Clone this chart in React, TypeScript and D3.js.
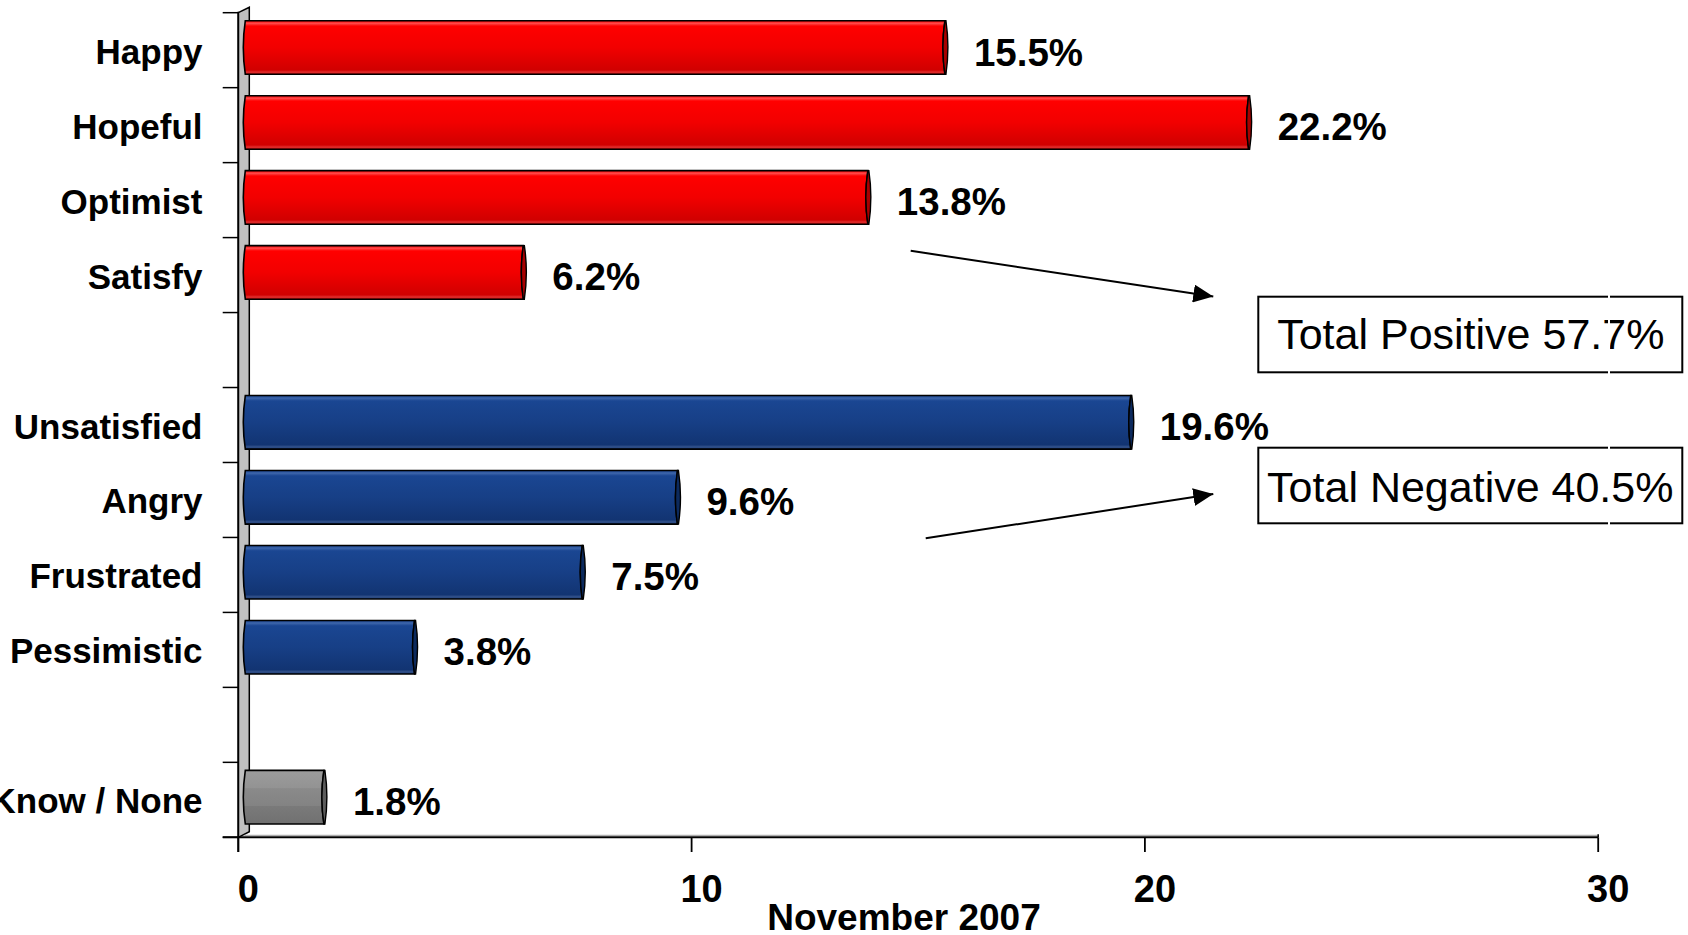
import React from "react";
import * as d3 from "d3";

const positiveCats = ["Happy", "Hopeful", "Optimist", "Satisfy"];
const positiveValues = [15.5, 22.2, 13.8, 6.2];
const negativeCats = ["Unsatisfied", "Angry", "Frustrated", "Pessimistic"];
const negativeValues = [19.6, 9.6, 7.5, 3.8];
const otherCats = ["Know / None"];
const otherValues = [1.8];
const xTicks = [0, 10, 20, 30];
const axisTitle = "November 2007";
const totalPositive = "Total Positive 57.7%";
const totalNegative = "Total Negative 40.5%";

const W = 1688;
const H = 935;
const FONT = "'Liberation Sans', Arial, Helvetica, sans-serif";

type Bar = { key: string; label: string; value: number; group: "pos" | "neg" | "oth" };

const bars: Bar[] = [
  ...positiveCats.map((c, i) => ({ key: c, label: c, value: positiveValues[i], group: "pos" as const })),
  ...negativeCats.map((c, i) => ({ key: c, label: c, value: negativeValues[i], group: "neg" as const })),
  ...otherCats.map((c, i) => ({ key: c, label: c, value: otherValues[i], group: "oth" as const })),
];

const domain = [...positiveCats, "__gap1", ...negativeCats, "__gap2", ...otherCats];

const x = d3.scaleLinear().domain([0, 30]).range([238.3, 1598.2]);
const y = d3.scaleBand<string>().domain(domain).range([12.7, 837.3]).paddingInner(0).paddingOuter(0);

const fills: Record<string, { grad: string; cap: string }> = {
  pos: { grad: "url(#gRed)", cap: "#a80000" },
  neg: { grad: "url(#gBlue)", cap: "#0c2a5e" },
  oth: { grad: "url(#gGrey)", cap: "#5c5c5c" },
};

function barPaths(x0: number, xe: number, top: number, h: number) {
  const mid = top + h / 2;
  const bot = top + h;
  const body = `M${x0 + 2},${top} L${xe - 3},${top} Q${xe - 7},${mid} ${xe - 3},${bot} L${x0 + 2},${bot} Q${x0 - 2},${mid} ${x0 + 2},${top} Z`;
  const cap = `M${xe - 3},${top} Q${xe - 7},${mid} ${xe - 3},${bot} L${xe - 2},${bot} Q${xe + 2},${mid} ${xe - 2},${top} Z`;
  return { body, cap };
}

export default function App() {
  const step = y.step();
  const depth = 7;
  const boundaries = d3.range(domain.length + 1).map((i) => 12.7 + i * step);
  const baseY = 837.3;
  const axX = x(0);

  return (
    <svg
      width={W}
      height={H}
      viewBox={`0 0 ${W} ${H}`}
      style={{ position: "absolute", left: 0, top: 0, background: "#fff" }}
    >
      <defs>
        <linearGradient id="gRed" x1="0" y1="0" x2="0" y2="1">
          <stop offset="0" stopColor="#ff0000" />
          <stop offset="0.05" stopColor="#ff4a4a" />
          <stop offset="0.1" stopColor="#ff0000" />
          <stop offset="0.5" stopColor="#f20000" />
          <stop offset="0.92" stopColor="#d00000" />
          <stop offset="0.96" stopColor="#e03030" />
          <stop offset="1" stopColor="#c80000" />
        </linearGradient>
        <linearGradient id="gBlue" x1="0" y1="0" x2="0" y2="1">
          <stop offset="0" stopColor="#1a4692" />
          <stop offset="0.05" stopColor="#3d65aa" />
          <stop offset="0.1" stopColor="#1a4692" />
          <stop offset="0.5" stopColor="#173f86" />
          <stop offset="0.92" stopColor="#123472" />
          <stop offset="0.96" stopColor="#35548c" />
          <stop offset="1" stopColor="#10306a" />
        </linearGradient>
        <linearGradient id="gGrey" x1="0" y1="0" x2="0" y2="1">
          <stop offset="0" stopColor="#9c9c9c" />
          <stop offset="0.33" stopColor="#939393" />
          <stop offset="0.34" stopColor="#8a8a8a" />
          <stop offset="0.66" stopColor="#838383" />
          <stop offset="0.67" stopColor="#7a7a7a" />
          <stop offset="1" stopColor="#717171" />
        </linearGradient>
        <marker id="arrowHead" viewBox="0 0 20 18" refX="20" refY="9" markerWidth="20" markerHeight="18" markerUnits="userSpaceOnUse" orient="auto">
          <path d="M0,0 L20,9 L0,18 Z" fill="#000" />
        </marker>
      </defs>

      {/* wall */}
      <path
        d={`M${axX},${12.7} L${axX + 11},${7.3} L${axX + 11},${831.7} L${axX},${baseY} Z`}
        fill="#c0c0c0"
        stroke="#000"
        strokeWidth={1.5}
      />

      {/* left ticks */}
      {boundaries.map((b, i) => (
        <line key={`lt${i}`} x1={222.7} x2={axX} y1={b} y2={b} stroke="#000" strokeWidth={1.5} />
      ))}
      {/* vertical axis line */}
      <line x1={axX} x2={axX} y1={11.7} y2={852} stroke="#000" strokeWidth={1.8} />

      {/* floor / x axis */}
      <line x1={axX + 6} x2={x(30)} y1={baseY - 2} y2={baseY - 2} stroke="#9a9a9a" strokeWidth={1} />
      <line x1={222.7} x2={x(30)} y1={baseY} y2={baseY} stroke="#000" strokeWidth={2} />
      <line x1={x(30)} x2={x(30)} y1={baseY - 3} y2={baseY} stroke="#000" strokeWidth={1.5} />
      {xTicks.map((t) => (
        <g key={`xt${t}`}>
          <line x1={x(t)} x2={x(t)} y1={baseY} y2={852} stroke="#000" strokeWidth={1.8} />
          <text
            x={x(t) + 10}
            y={901.7}
            textAnchor="middle"
            fontFamily={FONT}
            fontWeight="bold"
            fontSize={38}
            fill="#000"
          >
            {t}
          </text>
        </g>
      ))}
      <text x={904} y={930} textAnchor="middle" fontFamily={FONT} fontWeight="bold" fontSize={37} fill="#000">
        {axisTitle}
      </text>

      {/* bars */}
      {bars.map((d) => {
        const top = (y(d.key) as number) + step * 0.107;
        const h = step * 0.715;
        const x0 = axX + depth - 2;
        const xe = x(d.value) + depth;
        const p = barPaths(x0, xe, top, h);
        const f = fills[d.group];
        return (
          <g key={d.key}>
            <path d={p.body} fill={f.grad} stroke="#000" strokeWidth={1.6} />
            <path d={p.cap} fill={f.cap} stroke="#000" strokeWidth={1.4} />
            <text
              x={xe + 26}
              y={top + h / 2 + 18}
              fontFamily={FONT}
              fontWeight="bold"
              fontSize={38.5}
              fill="#000"
            >
              {d.value.toFixed(1)}%
            </text>
          </g>
        );
      })}

      {/* category labels */}
      {bars.map((d) => (
        <text
          key={`cl${d.key}`}
          x={202.5}
          y={(y(d.key) as number) + step / 2 + 13.5}
          textAnchor="end"
          fontFamily={FONT}
          fontWeight="bold"
          fontSize={35}
          fill="#000"
        >
          {d.label}
        </text>
      ))}

      {/* arrows */}
      <line x1={910.7} y1={250.8} x2={1213.3} y2={296.5} stroke="#000" strokeWidth={2} markerEnd="url(#arrowHead)" />
      <line x1={925.7} y1={538.3} x2={1213.3} y2={494} stroke="#000" strokeWidth={2} markerEnd="url(#arrowHead)" />

      {/* total boxes */}
      <rect x={1258.3} y={296.7} width={424} height={75.6} fill="#fff" stroke="#000" strokeWidth={2} />
      <text x={1470.8} y={349} textAnchor="middle" fontFamily={FONT} fontSize={43} fill="#000">
        {totalPositive}
      </text>
      <rect x={1258.3} y={447.7} width={424} height={75.6} fill="#fff" stroke="#000" strokeWidth={2} />
      <text x={1470.3} y={501.7} textAnchor="middle" fontFamily={FONT} fontSize={43} fill="#000">
        {totalNegative}
      </text>
      {/* thin white seam visible in the reference boxes */}
      <rect x={1608} y={294} width={2} height={81} fill="#fff" />
      <rect x={1608} y={445} width={2} height={81} fill="#fff" />
    </svg>
  );
}
